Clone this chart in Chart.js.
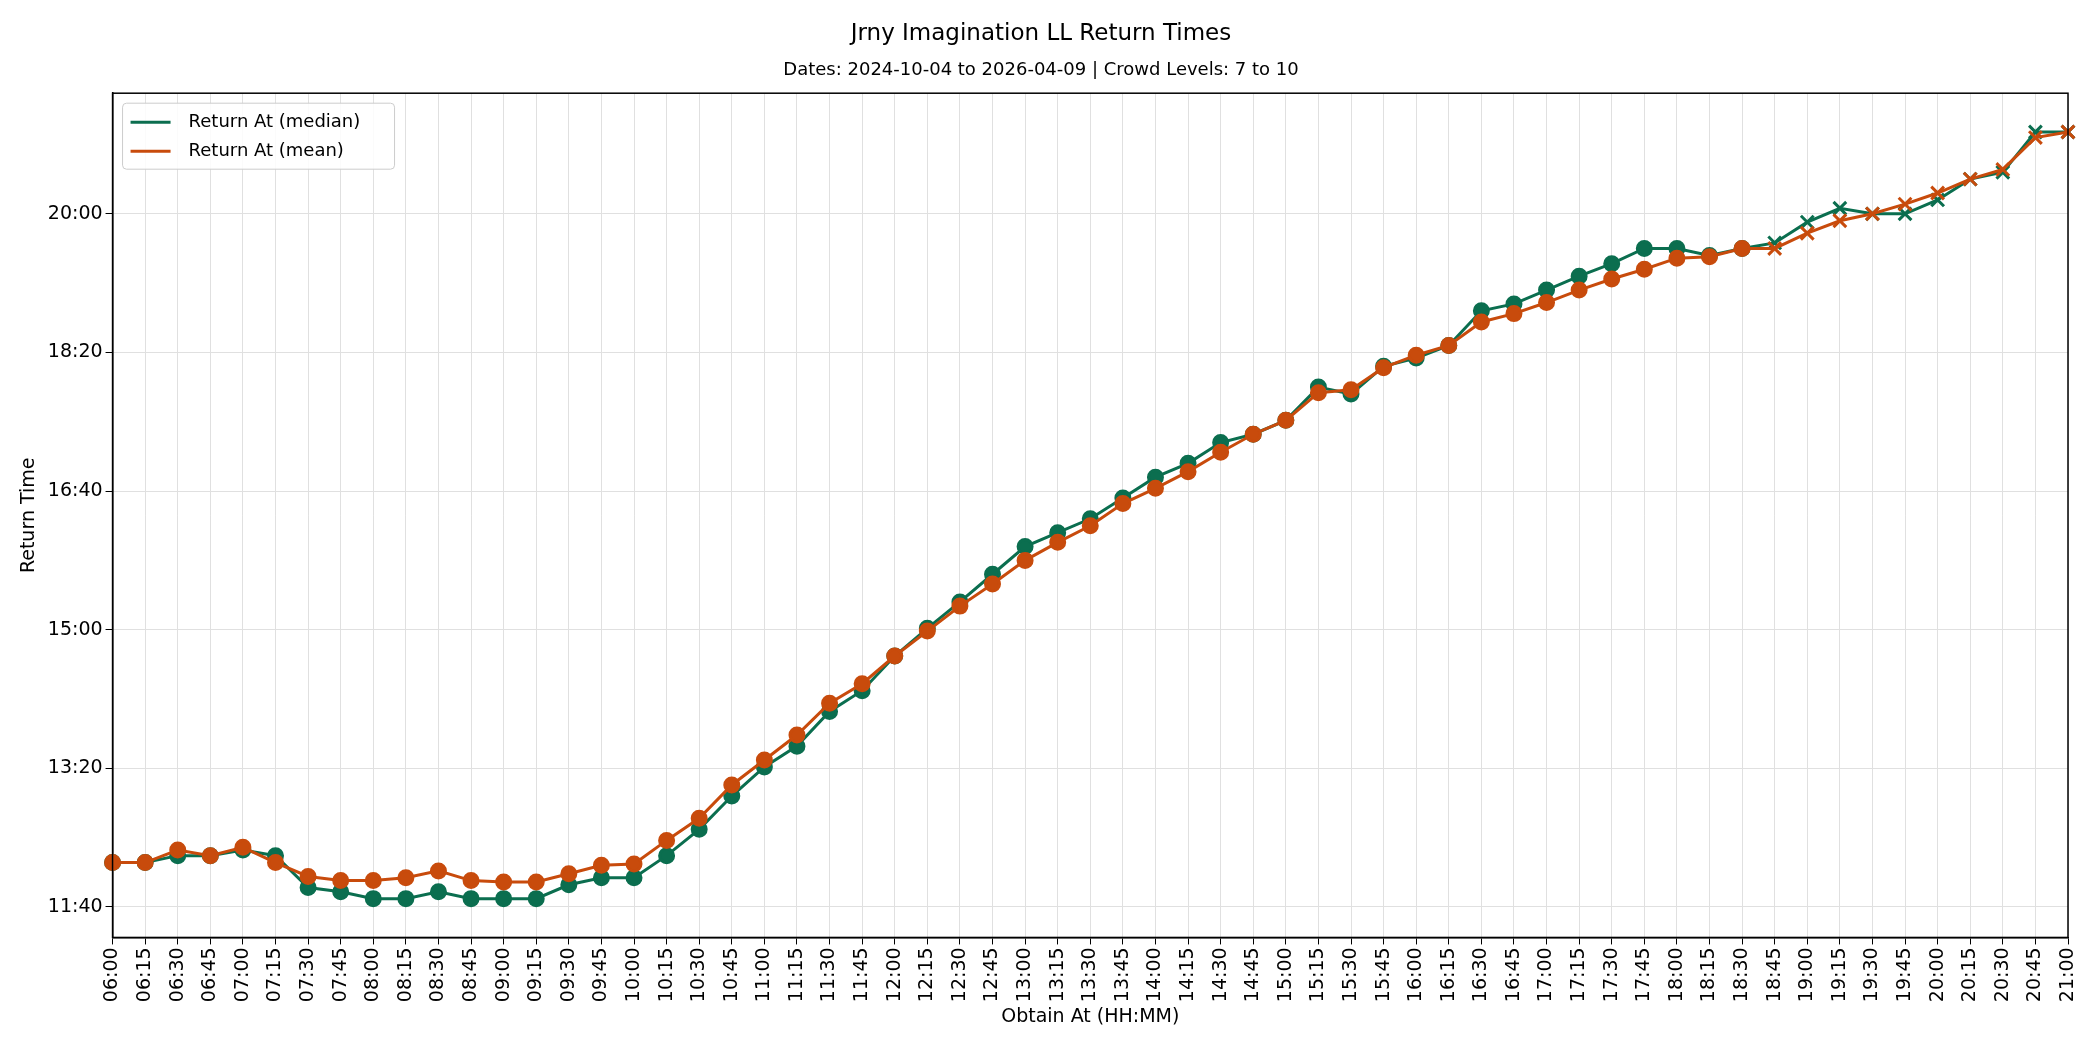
<!DOCTYPE html>
<html><head><meta charset="utf-8">
<script src="https://cdn.jsdelivr.net/npm/chart.js@4"></script>
<style>body{margin:0;background:#fff}#wrap{width:2100px;height:1050px}</style>
</head><body><div id="wrap"><canvas id="c"></canvas></div>
<script>
// obtain times (x) and return times in minutes since midnight (y)
var labels = [];
for (var h = 6; h <= 21; h++) { ['00','15','30','45'].forEach(function(m){ if (h < 21 || m === '00') labels.push((h<10?'0':'')+h+':'+m); }); }

var median = [732,732,737,737,741,737,714,711,706,706,711,706,706,706,716,721,721,737,756,780,
  801,816,841,856,881,901,920,940,960,970,980,995,1010,1020,1035,1041,1051,1075,1070,1090,
  1096,1105,1130,1135,1145,1155,1164,1175,1175,1170,1175,1179,1194,1204,1200,1200,1210,1225,1230,1259,1259];
var mean = [732,732,741,737,743,732,722,719,719,721,726,719,718,718,724,730,731,748,764,788,
  806,824,847,861,881,899,917,933,950,963,975,991,1002,1014,1028,1041,1051,1071,1073,1089,
  1098,1105,1122,1128,1136,1145,1153,1160,1168,1169,1175,1175,1186,1195,1200,1207,1215,1225,1232,1255,1259];
var yTicks = [700,800,900,1000,1100,1200];
var crossFrom = 51;

var green = '#0b6e4f', orange = '#c84b0c';
function styles(){ return labels.map(function(l,i){ return i >= crossFrom ? 'crossRot' : 'circle'; }); }
function radii(){ return labels.map(function(l,i){ return i >= crossFrom ? 9 : 7; }); }
function fmt(v){ var h=Math.floor(v/60), m=Math.round(v%60); return (h<10?'0':'')+h+':'+(m<10?'0':'')+m; }

var legendBox = {
  id: 'legendBox',
  afterDraw: function(chart){
    var ctx = chart.ctx, a = chart.chartArea;
    var x = a.left + 10, y = a.top + 10, w = 272, hgt = 66;
    ctx.save();
    ctx.fillStyle = 'rgba(255,255,255,0.85)'; ctx.strokeStyle = '#ccc'; ctx.lineWidth = 1;
    ctx.beginPath(); ctx.roundRect(x, y, w, hgt, 4); ctx.fill(); ctx.stroke();
    ctx.font = '18px "DejaVu Sans"'; ctx.textBaseline = 'middle'; ctx.fillStyle = '#000';
    [['Return At (median)', green], ['Return At (mean)', orange]].forEach(function(e, i){
      var yy = y + 19 + i * 29;
      ctx.strokeStyle = e[1]; ctx.lineWidth = 3;
      ctx.beginPath(); ctx.moveTo(x + 8, yy); ctx.lineTo(x + 48, yy); ctx.stroke();
      ctx.fillText(e[0], x + 66, yy);
    });
    ctx.restore();
  }
};

new Chart(document.getElementById('c'), {
  type: 'line',
  data: { labels: labels, datasets: [
    { label: 'Return At (median)', data: median, borderColor: green, backgroundColor: green, order: 2,
      borderWidth: 3, pointStyle: styles(), pointRadius: radii(), pointBorderWidth: 3, pointBorderColor: green },
    { label: 'Return At (mean)', data: mean, borderColor: orange, backgroundColor: orange, order: 1,
      borderWidth: 3, pointStyle: styles(), pointRadius: radii(), pointBorderWidth: 3, pointBorderColor: orange }
  ]},
  options: {
    responsive: true, maintainAspectRatio: false, animation: false,
    layout: { padding: { left: 14, right: 32, top: 12, bottom: 22 } },
    plugins: {
      legend: { display: false },
      tooltip: { enabled: false },
      title: { display: true, text: 'Jrny Imagination LL Return Times', color: '#000',
        font: { family: 'DejaVu Sans', size: 23, weight: 'normal' }, padding: { top: 8, bottom: 12 } },
      subtitle: { display: true, text: 'Dates: 2024-10-04 to 2026-04-09 | Crowd Levels: 7 to 10', color: '#000',
        font: { family: 'DejaVu Sans', size: 18 }, padding: { bottom: 12 } }
    },
    scales: {
      x: { offset: false,
        grid: { color: '#e0e0e0', drawTicks: true, tickColor: '#000', tickLength: 7 },
        border: { color: '#000', width: 1.5 },
        ticks: { color: '#000', maxRotation: 90, minRotation: 90, autoSkip: false, font: { family: 'DejaVu Sans', size: 19 } },
        title: { display: true, text: 'Obtain At (HH:MM)', color: '#000', font: { family: 'DejaVu Sans', size: 19 }, padding: 0 } },
      y: { min: 678, max: 1287,
        afterBuildTicks: function(s){ s.ticks = yTicks.map(function(v){ return { value: v }; }); },
        grid: { color: '#e0e0e0', tickColor: '#000', tickLength: 7 },
        border: { color: '#000', width: 1.5 },
        ticks: { color: '#000', callback: function(v){ return fmt(v); }, font: { family: 'DejaVu Sans', size: 19 } },
        title: { display: true, text: 'Return Time', color: '#000', font: { family: 'DejaVu Sans', size: 19 } } }
    }
  },
  plugins: [legendBox, { id: 'frame', afterDraw: function(c){ var a=c.chartArea, x=c.ctx; x.save(); x.strokeStyle='#000'; x.lineWidth=1.5; x.strokeRect(a.left,a.top,a.right-a.left,a.bottom-a.top); x.restore(); } }]
});
</script></body></html>
